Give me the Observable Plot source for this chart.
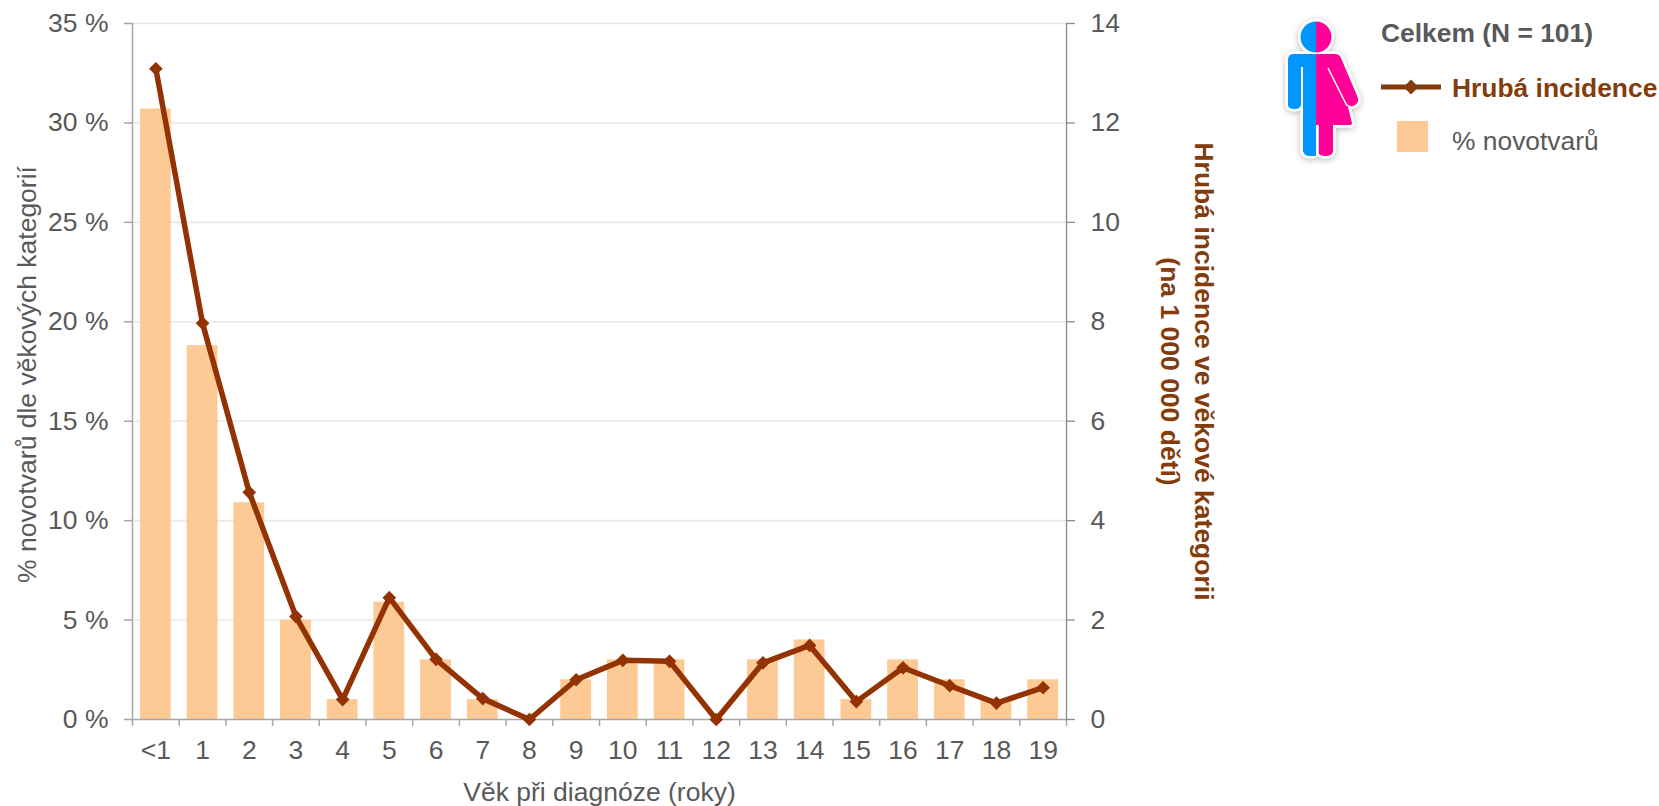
<!DOCTYPE html>
<html><head><meta charset="utf-8">
<script src="https://cdn.jsdelivr.net/npm/d3@7"></script>
<script src="https://cdn.jsdelivr.net/npm/@observablehq/plot@0.6"></script>
<style>
html,body{margin:0;padding:0;background:#fff;overflow:hidden}
#wrap{position:relative;width:1659px;height:806px;font-family:"Liberation Sans",Arial,sans-serif}
#wrap svg.plot{position:absolute;left:0;top:0;background:transparent;max-width:none}
.lg{position:absolute;white-space:nowrap;font-size:26.4px;line-height:30px}
</style></head><body>
<div id="wrap"></div>
<script>
const ages = ["<1","1","2","3","4","5","6","7","8","9","10","11","12","13","14","15","16","17","18","19"];
const percentNeoplasms = [30.7,18.8,10.9,5,1,5.9,3,1,0,2,3,3,0,3,4,1,3,2,1,2];
const crudeIncidence = [13.09,7.97,4.57,2.07,0.40,2.45,1.21,0.42,0,0.80,1.19,1.17,0,1.14,1.49,0.36,1.04,0.68,0.33,0.64];
const percentTicks = [0,5,10,15,20,25,30,35];
const incidenceTicks = [0,2,4,6,8,10,12,14];
const barRows = ages.map((a,i)=>({age:a,value:percentNeoplasms[i]}));
const lineRows = ages.map((a,i)=>({age:a,value:crudeIncidence[i]}));

const GREY="#595959", AXIS="#a6a6a6", AXIS2="#8c8c8c", LINE="#933202", TITLE="#843c0c", BAR="#fdca96";
const dims={width:1659,height:806,marginLeft:132,marginRight:593,marginTop:23,marginBottom:87,
  style:{fontFamily:'"Liberation Sans",Arial,sans-serif',background:"transparent"}};
const xScale={type:"band",domain:ages,paddingInner:0.34,paddingOuter:0.17,round:false,axis:null,label:null};
const half=(1659-132-593)/40;

const base=Plot.plot({...dims,
  x:xScale,
  y:{domain:[0,35],axis:null,label:null},
  marks:[
    Plot.ruleY(percentTicks.slice(1),{stroke:"#e8e8e8",strokeWidth:1.6}),
    Plot.barY(barRows,{x:"age",y:"value",fill:BAR}),
    Plot.axisY({ticks:percentTicks,tickSize:8,stroke:AXIS,strokeWidth:1.5,fontSize:26.5,tickPadding:16,
      tickFormat:d=>d+" %",label:null,fill:GREY}),
    Plot.axisX({tickSize:7,dx:-half,stroke:AXIS,strokeWidth:1.5,label:null,tickFormat:()=>""}),
    Plot.axisX({ticks:["19"],tickSize:7,dx:half,stroke:AXIS,strokeWidth:1.5,label:null,tickFormat:()=>""}),
    Plot.axisX({tickSize:0,tickPadding:21,fontSize:26.5,fill:GREY,label:null}),
    Plot.frame({anchor:"left",stroke:AXIS,strokeWidth:1.5}),
    Plot.frame({anchor:"bottom",stroke:AXIS,strokeWidth:1.5}),
    Plot.text(["Věk při diagnóze (roky)"],{frameAnchor:"bottom",dy:81,fontSize:26.5,fill:GREY}),
    Plot.text(["% novotvarů dle věkových kategorií"],{frameAnchor:"left",textAnchor:"middle",dx:-105,dy:3,rotate:-90,fontSize:26.5,fill:GREY})
  ]});

const over=Plot.plot({...dims,
  x:xScale,
  y:{domain:[0,14],axis:null,label:null},
  marks:[
    Plot.axisY({anchor:"right",ticks:incidenceTicks,tickSize:8,stroke:AXIS2,strokeWidth:1.3,fontSize:26.5,fill:GREY,tickPadding:16,label:null}),
    Plot.frame({anchor:"right",stroke:AXIS2,strokeWidth:1.3}),
    Plot.line(lineRows,{x:"age",y:"value",stroke:LINE,strokeWidth:5.5,strokeLinejoin:"round"}),
    Plot.dot(lineRows,{x:"age",y:"value",fill:LINE,stroke:LINE,symbol:"diamond2",r:5.2}),
    Plot.text(["Hrubá incidence ve věkové kategorii"],{frameAnchor:"right",textAnchor:"middle",dx:137,rotate:90,fontSize:26.5,fontWeight:700,fill:TITLE}),
    Plot.text(["(na 1 000 000 dětí)"],{frameAnchor:"right",textAnchor:"middle",dx:103,rotate:90,fontSize:26.5,fontWeight:700,fill:TITLE})
  ]});
const wrap=document.getElementById("wrap");
base.classList.add("plot");over.classList.add("plot");
wrap.append(base,over);

function lg(text,left,top,css){const d=document.createElement("div");d.className="lg";d.textContent=text;
  d.style.left=left+"px";d.style.top=top+"px";d.style.cssText+=css||"";wrap.append(d);}
lg("Celkem (N = 101)",1381,18,"font-weight:700;color:"+GREY);
lg("Hrubá incidence",1452,73,"font-weight:700;color:"+TITLE);
lg("% novotvarů",1452,126,"color:"+GREY);

const keys=document.createElement("div");
keys.innerHTML=`<svg width="260" height="170" style="position:absolute;left:1200px;top:0">
 <defs><filter id="s" x="-30%" y="-30%" width="160%" height="160%"><feDropShadow dx="0" dy="1.5" stdDeviation="3" flood-color="#000" flood-opacity=".28"/></filter>
 <clipPath id="lc"><rect x="0" y="0" width="116" height="170"/></clipPath>
 <clipPath id="rc"><rect x="116" y="0" width="100" height="170"/></clipPath></defs>
 <g filter="url(#s)">
  <g stroke="#fff" stroke-width="5" stroke-linejoin="round" fill="#fff">
   <circle cx="116" cy="37" r="15.5"/><path d="M93 54H136Q139 54 141 58L158 98Q159 104 153 106Q149 107 147 103L152 123Q152 125 149 125H133V151Q133 156 125 156Q119 156 118 152Q115 156 110 156Q104 156 103 151V67H101V105Q100 109 95 109Q88 109 88 105V59Q89 54 93 54Z"/>
  </g>
 </g>
 <g clip-path="url(#lc)" fill="#0095ff">
  <circle cx="116" cy="37" r="15.5"/>
  <path d="M93 54H118V156H110Q104 156 103 151V67H101V105Q100 109 95 109Q88 109 88 105V59Q89 54 93 54Z"/>
 </g>
 <g clip-path="url(#rc)" fill="#ff0099">
  <circle cx="116" cy="37" r="15.5"/>
  <path d="M116 54H136Q139 54 141 58L158 98Q159 104 153 106Q149 107 147 103L152 123Q152 125 149 125H133V151Q133 156 125 156Q119 156 118 152V125H116Z"/>
 </g>
 <line x1="118" y1="125" x2="118" y2="156" stroke="#fff" stroke-width="1.5"/>
 <line x1="128" y1="68" x2="147" y2="106" stroke="#fff" stroke-width="1.5"/>
 <line x1="181" y1="87" x2="241" y2="87" stroke="${TITLE}" stroke-width="5"/>
 <path d="M211 79.5L218.5 87L211 94.5L203.5 87Z" fill="${TITLE}"/>
 <rect x="197" y="121" width="31" height="31" fill="${BAR}"/>
</svg>`;
wrap.append(keys);
</script>
</body></html>
